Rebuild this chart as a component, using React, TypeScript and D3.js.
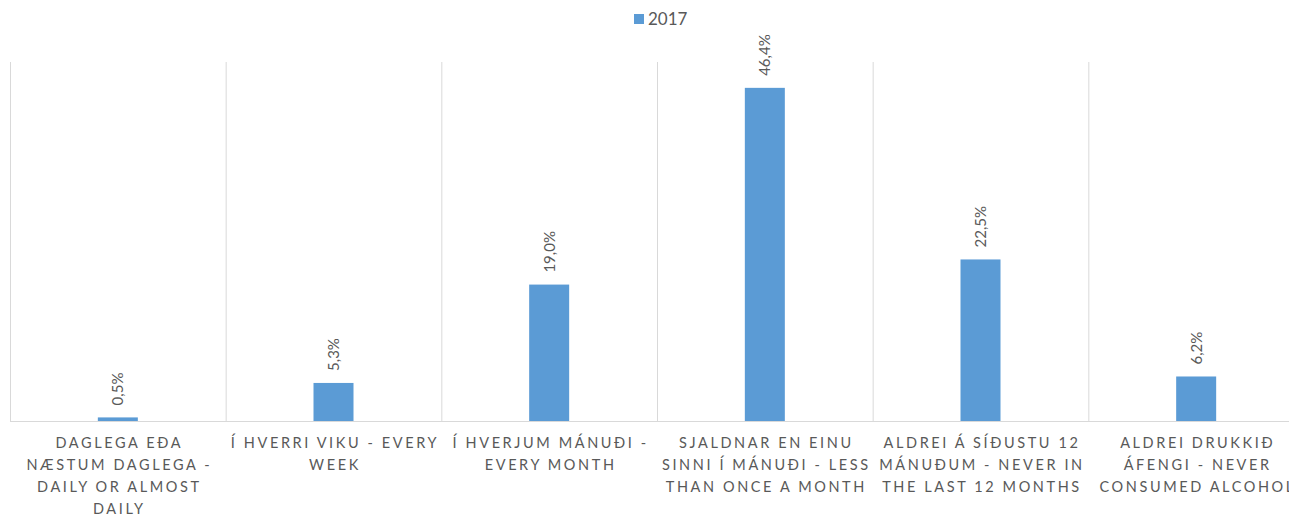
import { useEffect, useRef } from "react"
import * as d3 from "d3"

const categories = [
  "daglega",
  "vika",
  "manudur",
  "sjaldnar",
  "aldrei12",
  "aldrei",
]

const tickLines = [
  ["DAGLEGA EÐA", "NÆSTUM DAGLEGA -", "DAILY OR ALMOST", "DAILY"],
  ["Í HVERRI VIKU - EVERY", "WEEK"],
  ["Í HVERJUM MÁNUÐI -", "EVERY MONTH"],
  ["SJALDNAR EN EINU", "SINNI Í MÁNUÐI - LESS", "THAN ONCE A MONTH"],
  ["ALDREI Á SÍÐUSTU 12", "MÁNUÐUM - NEVER IN", "THE LAST 12 MONTHS"],
  ["ALDREI DRUKKIÐ", "ÁFENGI - NEVER", "CONSUMED ALCOHOL"],
]

const values2017 = [0.5, 5.3, 19.0, 46.4, 22.5, 6.2]

export default function App() {
  const svgRef = useRef<SVGSVGElement>(null)

  useEffect(() => {
    if (!svgRef.current) return
    const width = 1289
    const height = 516
    const left = 10
    const right = 1304
    const top = 62
    const bottom = 421
    const font = "Lato, 'Open Sans', sans-serif"

    d3.select(svgRef.current).selectAll("*").remove()
    const svg = d3.select(svgRef.current).attr("width", width).attr("height", height)

    const x = d3.scaleBand().domain(categories).range([left, right])
    const y = d3.scaleLinear().domain([0, 50]).range([bottom, top])

    // vertical gridlines at category boundaries
    const bounds = categories.map((c) => x(c) as number).concat([right])
    svg
      .append("g")
      .selectAll("line")
      .data(bounds)
      .enter()
      .append("line")
      .attr("x1", (d) => d + 0.5)
      .attr("x2", (d) => d + 0.5)
      .attr("y1", top)
      .attr("y2", bottom)
      .attr("stroke", "#d9d9d9")
      .attr("stroke-width", 1)

    // bars
    const barW = 40
    svg
      .append("g")
      .selectAll("rect")
      .data(values2017)
      .enter()
      .append("rect")
      .attr("x", (d, i) => (x(categories[i]) as number) + x.bandwidth() / 2 - barW / 2)
      .attr("y", (d) => y(d))
      .attr("width", barW)
      .attr("height", (d) => bottom - y(d))
      .attr("fill", "#5b9bd5")

    // baseline
    svg
      .append("line")
      .attr("x1", left)
      .attr("x2", right)
      .attr("y1", bottom + 0.5)
      .attr("y2", bottom + 0.5)
      .attr("stroke", "#d9d9d9")
      .attr("stroke-width", 1)

    // value labels
    svg
      .append("g")
      .selectAll("text")
      .data(values2017)
      .enter()
      .append("text")
      .attr("transform", (d, i) => {
        const cx = (x(categories[i]) as number) + x.bandwidth() / 2
        return `translate(${cx + 5.5},${y(d) - 12}) rotate(-90)`
      })
      .attr("text-anchor", "start")
      .attr("font-family", font)
      .attr("font-size", 15)
      .attr("fill", "#595959")
      .text((d) => d.toFixed(1).replace(".", ",") + "%")

    // category labels
    const ticks = svg
      .append("g")
      .selectAll("text")
      .data(tickLines)
      .enter()
      .append("text")
      .attr("text-anchor", "middle")
      .attr("font-family", font)
      .attr("font-size", 14.5)
      .attr("letter-spacing", 2.6)
      .attr("fill", "#595959")
      .attr("transform", (d, i) => `translate(${(x(categories[i]) as number) + x.bandwidth() / 2 + 1.5},0)`)

    ticks
      .selectAll("tspan")
      .data((d) => d)
      .enter()
      .append("tspan")
      .attr("x", 0)
      .attr("y", (d, j) => 448 + j * 22)
      .text((d) => d)

    // legend
    const legend = svg.append("g").attr("transform", "translate(634,14)")
    legend.append("rect").attr("width", 10).attr("height", 10).attr("fill", "#5b9bd5")
    legend
      .append("text")
      .attr("x", 14)
      .attr("y", 11)
      .attr("font-family", font)
      .attr("font-size", 17)
      .attr("fill", "#595959")
      .text("2017")
  }, [])

  return (
    <div style={{ position: "absolute", left: 0, top: 0, width: 1289, height: 516, overflow: "hidden", background: "#fff" }}>
      <svg ref={svgRef}></svg>
    </div>
  )
}
